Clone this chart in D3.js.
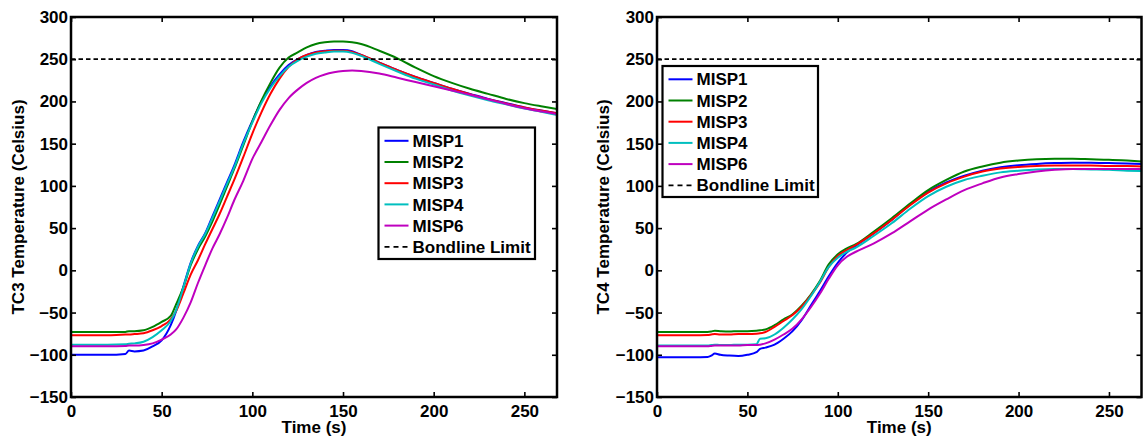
<!DOCTYPE html>
<html><head><meta charset="utf-8">
<script src="https://cdn.jsdelivr.net/npm/d3@7"></script>
<style>
body{margin:0;background:#fff}
text{font-family:"Liberation Sans",Arial,sans-serif;font-weight:bold;fill:#000}
</style>
</head><body>
<svg id="chart" width="1143" height="437"></svg>
<script>
// ---------- DATA ----------
const seriesNames = ["MISP1", "MISP2", "MISP3", "MISP4", "MISP6"];
const seriesColors = ["#0000ff", "#008000", "#ff0000", "#00bfbf", "#bf00bf"];
const limitLabel = "Bondline Limit";
const bondlineLimit = 250;
const xTicks = [0, 50, 100, 150, 200, 250];
const yTicks = [-150, -100, -50, 0, 50, 100, 150, 200, 250, 300];
const xDomain = [0, 268];
const yDomain = [-150, 300];

// Left panel (TC3)
const timeTC3 = [0,10,20,30,32,35,40,45,50,55,58,62,66,70,74,78,82,86,90,95,100,105,110,115,120,125,130,135,140,145,150,155,160,170,180,190,200,210,220,230,240,250,260,268];
const tc3MISP1 = [-100,-100,-100,-99,-95,-96,-95,-90,-83,-65,-48,-19,9,29,44,64,84,104,124,152,177,200,218,232,243,250,255,258.5,260,261,261,259.5,255,246,237,229,222,215,209,203,198,193,189,186];
const tc3MISP2 = [-73,-73,-73,-73,-72,-72,-71,-67,-61,-54,-40,-20,6,25,40,58,78,99,120,148,176,201,222,240,252,258,264,268,270,271,271,270,268,260,251,240,230,222,215,209,203,198,194,191];
const tc3MISP3 = [-77,-77,-77,-76,-76,-75.5,-74.5,-71,-66,-58,-48,-27,-5,12,31,49,67,87,107,134,162,187,209,227,241,250,255,258,259.5,260,260,258.5,255,246,237,229,222,215,208.5,202.5,197.5,193,189,186];
const tc3MISP4 = [-88,-88,-88,-87.5,-87,-86.5,-84.5,-79,-71,-60,-47,-20,8,28,43,62,82,102,122,150,175,198,216,230,241,248,253,256.5,258,259,259,257.5,254,244.5,235.5,227,220,213,207,201.5,196.5,191.5,187.5,184];
const tc3MISP6 = [-90,-90,-90,-89.5,-89,-89,-88.4,-86.5,-82,-76,-70,-56,-38,-15,6,26,43,62,83,106,132,152,172,190,204,214,222,228,232,234.5,236,236.5,236,233,228,223,218,213,208,202.5,197,192,188,185];

// Right panel (TC4)
const timeTC4 = [0,10,20,28,30,32,35,40,45,50,55,57,60,65,70,75,80,85,90,95,100,105,110,120,130,140,150,160,170,180,190,200,210,220,230,240,250,260,268];
const tc4MISP1 = [-103,-103,-103,-102.5,-101,-98.5,-100,-101,-101.5,-100,-97,-93,-91.5,-88,-81,-72,-59,-42,-25,-7,9,21,29,44,60,78,93,104,112,118,122,124.5,126,127,127.5,127.5,127,126.5,126];
const tc4MISP2 = [-73,-73,-73,-73,-72.5,-71.5,-72,-72.5,-72,-72,-71.5,-71,-70,-65,-58,-52,-42,-29,-13,7,19,26,31,46,62,79,95,107,117,123,127.5,130,131.5,132,132,131.5,131,130,129];
const tc4MISP3 = [-77,-77,-77,-76.5,-76,-75.5,-76,-76,-75.5,-75.5,-75,-74.5,-73,-67,-60,-53,-43,-30,-15,4,17,24,30,44,60,77,92,103,111,117,120.5,122.5,123.5,124,124,124,123.5,123.5,123];
const tc4MISP4 = [-89,-89,-89,-89,-88.5,-88,-88.5,-88.5,-88,-88,-87.5,-81,-80.5,-76,-68,-58,-46,-31,-14,4,15,22,27,41,56,73,88,99,107,112,116,118,119.5,120,120,119.5,119,118,117.5];
const tc4MISP6 = [-90,-90,-90,-90,-89.5,-89,-89,-89,-89,-88.5,-88.5,-88,-86.5,-82,-76,-69,-58,-44,-28,-10,6,16,22,32,44,58,72,84,95,103,110,114,117,119,120,120,120,120,120];

// ---------- DRAW ----------
const svg = d3.select("#chart");
const fmt = d3.format("d");
const FS = 17;

function panel(cfg) {
  const x = d3.scaleLinear().domain(xDomain).range([cfg.x0, cfg.x1]);
  const y = d3.scaleLinear().domain(yDomain).range([cfg.y1, cfg.y0]);
  const g = svg.append("g");
  const clipId = "clip" + cfg.id;
  svg.append("clipPath").attr("id", clipId).append("rect")
    .attr("x", cfg.x0).attr("y", cfg.y0).attr("width", cfg.x1 - cfg.x0).attr("height", cfg.y1 - cfg.y0);

  const line = d3.line().x(d => x(d[0])).y(d => y(d[1])).curve(d3.curveMonotoneX);
  const plot = g.append("g").attr("clip-path", `url(#${clipId})`);
  cfg.series.forEach((vals, i) => {
    const pts = cfg.time.map((t, k) => [t, vals[k]]);
    plot.append("path").attr("d", line(pts)).attr("fill", "none")
      .attr("stroke", seriesColors[i]).attr("stroke-width", 2).attr("stroke-linejoin", "round");
  });
  plot.append("path").attr("d", line([[xDomain[0], bondlineLimit], [xDomain[1], bondlineLimit]]))
    .attr("stroke", "#000").attr("stroke-width", 1.8).attr("stroke-dasharray", "4.5,3").attr("fill", "none");

  // axes
  const ax = (gen, tr) => {
    const a = g.append("g").attr("transform", tr).call(gen);
    a.select(".domain").remove();
    a.selectAll(".tick line").attr("stroke", "#000").attr("stroke-width", 1.6);
    a.selectAll("text").attr("font-size", FS).attr("fill", "#000");
    return a;
  };
  ax(d3.axisBottom(x).tickValues(xTicks).tickFormat(fmt).tickSize(-5).tickPadding(7.5), `translate(0,${cfg.y1})`);
  ax(d3.axisTop(x).tickValues(xTicks).tickFormat("").tickSize(-5), `translate(0,${cfg.y0})`);
  ax(d3.axisLeft(y).tickValues(yTicks).tickFormat(fmt).tickSize(-5).tickPadding(3), `translate(${cfg.x0},0)`);
  ax(d3.axisRight(y).tickValues(yTicks).tickFormat("").tickSize(-5), `translate(${cfg.x1},0)`);

  g.append("rect").attr("x", cfg.x0).attr("y", cfg.y0).attr("width", cfg.x1 - cfg.x0).attr("height", cfg.y1 - cfg.y0)
    .attr("fill", "none").attr("stroke", "#000").attr("stroke-width", 2.5);

  // titles
  g.append("text").attr("x", (cfg.x0 + cfg.x1) / 2).attr("y", 433).attr("text-anchor", "middle")
    .attr("font-size", FS).text("Time (s)");
  g.append("text").attr("transform", `translate(${cfg.ylabX},${(cfg.y0 + cfg.y1) / 2}) rotate(-90)`)
    .attr("text-anchor", "middle").attr("font-size", FS).text(cfg.ylabel);

  // legend
  const L = cfg.legend;
  const lg = g.append("g");
  lg.append("rect").attr("x", L.x).attr("y", L.y).attr("width", L.w).attr("height", L.h)
    .attr("fill", "#fff").attr("stroke", "#000").attr("stroke-width", 2.2);
  const labels = seriesNames.concat([limitLabel]);
  labels.forEach((name, i) => {
    const cy = L.y + 13.3 + i * 21.2;
    const ln = lg.append("line").attr("x1", L.x + 6).attr("x2", L.x + 30).attr("y1", cy).attr("y2", cy)
      .attr("stroke-width", i < seriesNames.length ? 2 : 1.8);
    if (i < seriesNames.length) ln.attr("stroke", seriesColors[i]);
    else ln.attr("stroke", "#000").attr("stroke-dasharray", "5,4");
    lg.append("text").attr("x", L.x + 34).attr("y", cy).attr("dy", "0.36em").attr("font-size", FS).text(name);
  });
}

panel({ id: "L", x0: 71, x1: 557, y0: 17, y1: 397, ylabX: 24, ylabel: "TC3 Temperature (Celsius)",
  time: timeTC3, series: [tc3MISP1, tc3MISP2, tc3MISP3, tc3MISP4, tc3MISP6],
  legend: { x: 378.5, y: 127.5, w: 156.5, h: 131.5 } });
panel({ id: "R", x0: 657, x1: 1141.5, y0: 17, y1: 397, ylabX: 609, ylabel: "TC4 Temperature (Celsius)",
  time: timeTC4, series: [tc4MISP1, tc4MISP2, tc4MISP3, tc4MISP4, tc4MISP6],
  legend: { x: 662.5, y: 66, w: 155.5, h: 131 } });
</script>
</body></html>
